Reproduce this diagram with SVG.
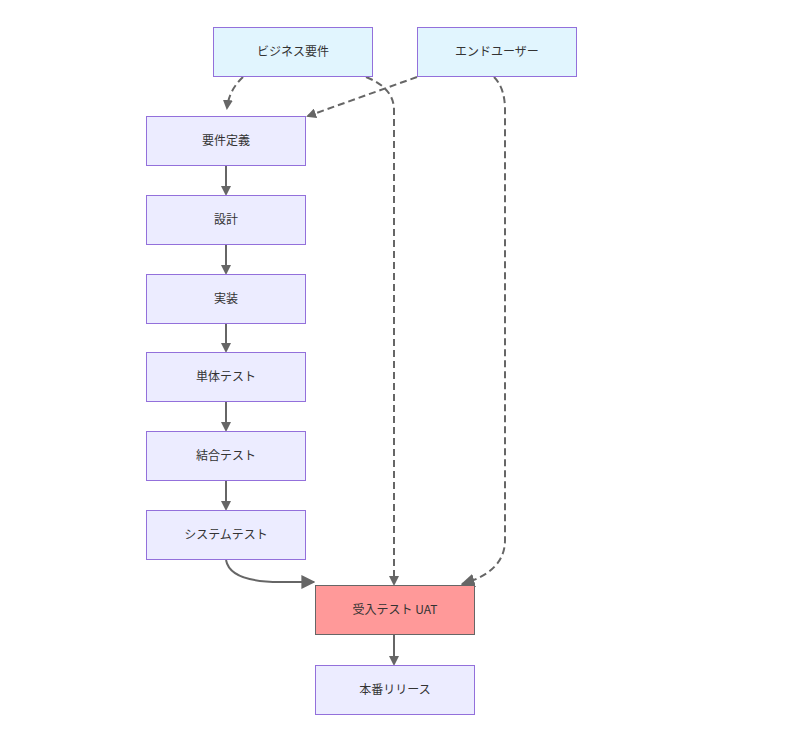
<svg xmlns="http://www.w3.org/2000/svg" width="800" height="740" viewBox="0 0 800 740">
<style>
.n rect{fill:#ECECFF;stroke:#9370DB;stroke-width:1}
.ext rect{fill:#E1F5FE}
.uat rect{fill:#FF9999;stroke:#666666}
.n text{font-family:"Noto Sans CJK JP","Noto Sans",sans-serif;font-size:12px;fill:#333;text-anchor:middle;dominant-baseline:central}
.e path{fill:none;stroke:#666;stroke-width:2}
.e .d{stroke-dasharray:7 4}
</style>
<defs>
<marker id="s2" viewBox="0 0 10 10" refX="8" refY="5" markerWidth="10" markerHeight="10" orient="auto" markerUnits="userSpaceOnUse"><path d="M0,0L10,5L0,10z" fill="#666"/></marker>
<marker id="b" viewBox="0 0 10 10" refX="9" refY="5" markerWidth="14" markerHeight="14" orient="auto" markerUnits="userSpaceOnUse"><path d="M0,0L10,5L0,10z" fill="#666"/></marker>
</defs>
<g class="e">
<path class="d" d="M243,77 Q229,90 227,108" marker-end="url(#s2)"/>
<path class="d" d="M417,77 L308,116" marker-end="url(#s2)"/>
<path class="d" d="M366,77 Q394,88 394,110 L394,584" marker-end="url(#s2)"/>
<path class="d" d="M494,77 Q505,88 505,110 L505,540 Q505,572 462,584" marker-end="url(#b)"/>
<path d="M226,560 Q230,582 280,582 L314,582" marker-end="url(#b)"/>
<path d="M226,165 L226,194" marker-end="url(#s2)"/>
<path d="M226,244 L226,273" marker-end="url(#s2)"/>
<path d="M226,323 L226,351" marker-end="url(#s2)"/>
<path d="M226,401 L226,430" marker-end="url(#s2)"/>
<path d="M226,480 L226,509" marker-end="url(#s2)"/>
<path d="M394,634 L394,664" marker-end="url(#s2)"/>
</g>
<g id="biz" class="n ext"><rect x="213.5" y="27.5" width="159" height="49"/><text x="293" y="50">ビジネス要件</text></g>
<g id="user" class="n ext"><rect x="417.5" y="27.5" width="159" height="49"/><text x="497" y="50">エンドユーザー</text></g>
<g id="req" class="n"><rect x="146.5" y="116.5" width="159" height="49"/><text x="226" y="139">要件定義</text></g>
<g id="design" class="n"><rect x="146.5" y="195.5" width="159" height="49"/><text x="226" y="218">設計</text></g>
<g id="impl" class="n"><rect x="146.5" y="274.5" width="159" height="49"/><text x="226" y="297">実装</text></g>
<g id="unit" class="n"><rect x="146.5" y="352.5" width="159" height="49"/><text x="226" y="375">単体テスト</text></g>
<g id="integ" class="n"><rect x="146.5" y="431.5" width="159" height="49"/><text x="226" y="454">結合テスト</text></g>
<g id="sys" class="n"><rect x="146.5" y="510.5" width="159" height="49"/><text x="226" y="533">システムテスト</text></g>
<g id="uat" class="n uat"><rect x="315.5" y="585.5" width="159" height="49"/><text x="395" y="608">受入テスト UAT</text></g>
<g id="release" class="n"><rect x="315.5" y="665.5" width="159" height="49"/><text x="395" y="688">本番リリース</text></g>
</svg>
